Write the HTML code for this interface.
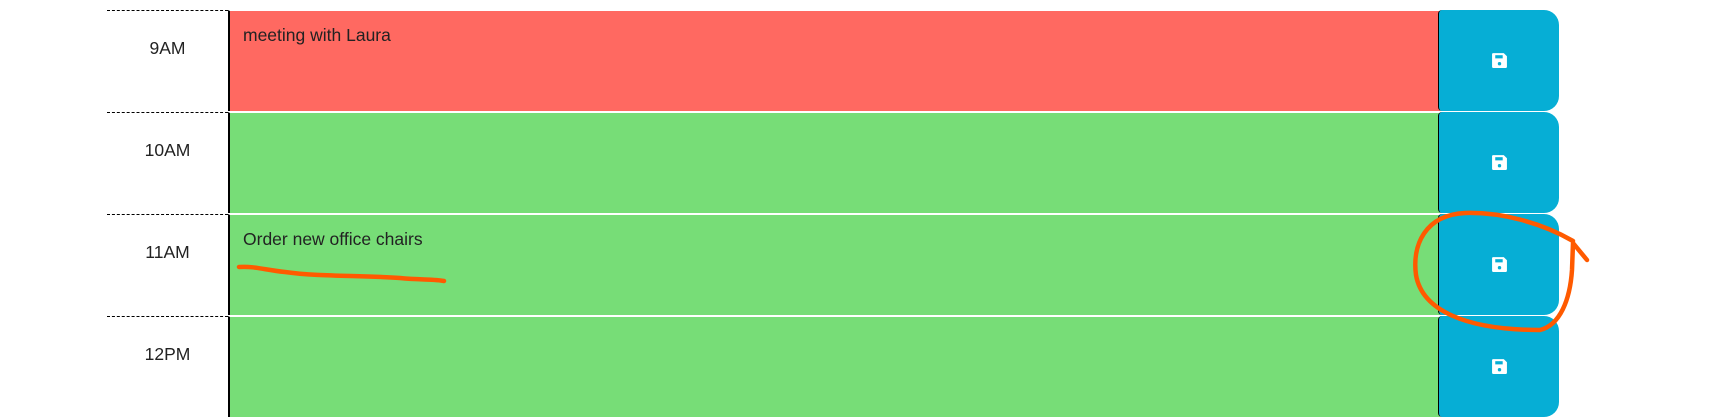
<!DOCTYPE html>
<html><head><meta charset="utf-8"><style>
body{margin:0;width:1712px;height:417px;background:#fff;position:relative;overflow:hidden;font-family:"Liberation Sans",sans-serif;}
.row{position:absolute;left:107px;height:101px;}
.hour{position:absolute;left:0;top:0;width:121px;height:101px;border-top:1px dashed #000;box-sizing:border-box;text-align:center;font-size:17.5px;color:#222;padding-top:27px;}
.desc{position:absolute;left:121px;top:0;width:1212px;height:101px;border-left:2px solid #000;border-top:1px solid #fff;box-sizing:border-box;font-size:17.5px;color:#222;padding:14px 0 0 13px;}
.btn{position:absolute;left:1331px;top:0;width:121px;height:101px;background:#06aed5;border-radius:4px 15px 15px 4px;border-left:1px solid #000;box-sizing:border-box;display:flex;align-items:center;justify-content:center;}
</style></head><body>
<div class="row" style="top:10px">
<div class="hour">9AM</div>
<div class="desc" style="background:#ff6961">meeting with Laura</div>
<div class="btn"><svg width="17" height="17" viewBox="0 0 16 16"><path d="M2 1h10l3 3v10a1 1 0 0 1-1 1H2a1 1 0 0 1-1-1V2a1 1 0 0 1 1-1z" fill="#fff"/><rect x="4" y="3" width="7" height="3" fill="#06aed5"/><circle cx="8" cy="11" r="1.6" fill="#06aed5"/></svg></div>
</div>
<div class="row" style="top:112px">
<div class="hour">10AM</div>
<div class="desc" style="background:#77dd77"></div>
<div class="btn"><svg width="17" height="17" viewBox="0 0 16 16"><path d="M2 1h10l3 3v10a1 1 0 0 1-1 1H2a1 1 0 0 1-1-1V2a1 1 0 0 1 1-1z" fill="#fff"/><rect x="4" y="3" width="7" height="3" fill="#06aed5"/><circle cx="8" cy="11" r="1.6" fill="#06aed5"/></svg></div>
</div>
<div class="row" style="top:214px">
<div class="hour">11AM</div>
<div class="desc" style="background:#77dd77">Order new office chairs</div>
<div class="btn"><svg width="17" height="17" viewBox="0 0 16 16"><path d="M2 1h10l3 3v10a1 1 0 0 1-1 1H2a1 1 0 0 1-1-1V2a1 1 0 0 1 1-1z" fill="#fff"/><rect x="4" y="3" width="7" height="3" fill="#06aed5"/><circle cx="8" cy="11" r="1.6" fill="#06aed5"/></svg></div>
</div>
<div class="row" style="top:316px">
<div class="hour">12PM</div>
<div class="desc" style="background:#77dd77"></div>
<div class="btn"><svg width="17" height="17" viewBox="0 0 16 16"><path d="M2 1h10l3 3v10a1 1 0 0 1-1 1H2a1 1 0 0 1-1-1V2a1 1 0 0 1 1-1z" fill="#fff"/><rect x="4" y="3" width="7" height="3" fill="#06aed5"/><circle cx="8" cy="11" r="1.6" fill="#06aed5"/></svg></div>
</div>
<svg style="position:absolute;left:0;top:0" width="1712" height="417">
<path d="M239 267 C255 266 265 270 285 272 C320 277 360 275 400 278 C420 280 435 279 444 281" stroke="#ff5a00" stroke-width="4.5" fill="none" stroke-linecap="round"/>
<path d="M1573 241 C1540 222 1500 212 1465 213 C1425 215 1412 245 1416 275 C1422 310 1465 330 1540 330 C1560 325 1570 300 1572 270 L1573 243 L1587 260" stroke="#ff5a00" stroke-width="4.5" fill="none" stroke-linecap="round" stroke-linejoin="round"/>
</svg>
</body></html>
